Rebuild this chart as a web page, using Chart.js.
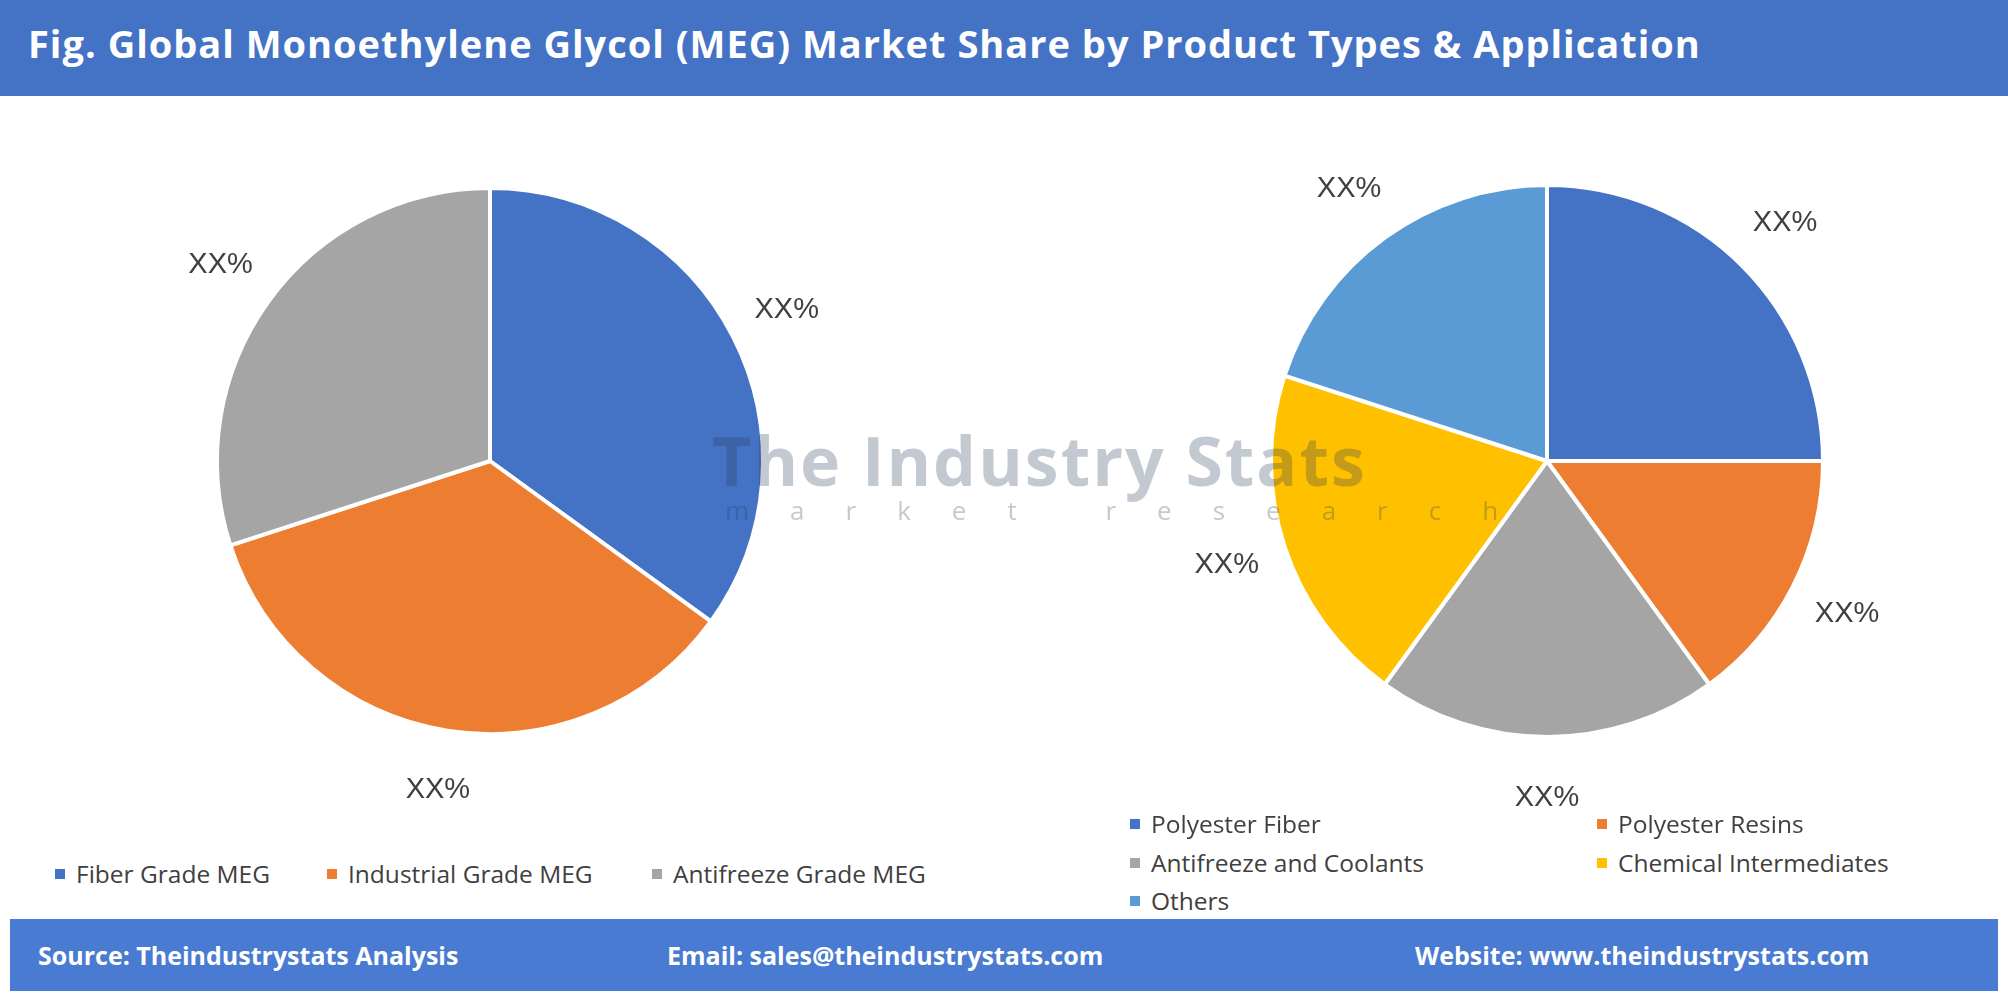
<!DOCTYPE html>
<html>
<head>
<meta charset="utf-8">
<script src="https://cdn.jsdelivr.net/npm/chart.js@4"></script>
<style>
  body { margin: 0; width: 2008px; height: 994px; background: #fff; font-family: "Open Sans", sans-serif; position: relative; overflow: hidden; }
  .cabecalho { position: absolute; left: 0; top: 0; width: 2008px; height: 96px; background: #4472C4; }
  .cabecalho h1 { margin: 0; color: #fff; font-size: 38px; font-weight: 700; position: absolute; left: 28px; top: 17px; letter-spacing: 1px; }
  .rodape { position: absolute; left: 10px; top: 919px; width: 1988px; height: 72px; background: #4A7BD2; color: #fff; font-weight: 700; font-size: 25px; }
  .rodape span { position: absolute; top: 19px; }
  .grafico { position: absolute; }
  .legenda { position: absolute; font-size: 24.5px; color: #404040; }
  .legenda .item { position: absolute; white-space: nowrap; }
  .legenda .quadrado { display: inline-block; width: 10px; height: 10px; margin-right: 11px; vertical-align: middle; position: relative; top: -2px; }
  .marca { position: absolute; left: 712px; top: 413px; font-size: 68px; font-weight: 700; color: rgba(40,60,90,0.28); letter-spacing: 2px; }
  .marca2 { position: absolute; left: 725px; top: 492px; font-size: 26px; color: rgba(40,60,90,0.28); letter-spacing: 41px; }
</style>
</head>
<body>
<div class="cabecalho"><h1>Fig. Global Monoethylene Glycol (MEG) Market Share by Product Types &amp; Application</h1></div>

<div class="grafico" style="left:90px; top:111px; width:800px; height:700px;"><canvas id="pieTipos"></canvas></div>
<div class="grafico" style="left:1147px; top:111px; width:800px; height:700px;"><canvas id="pieAplicacao"></canvas></div>

<div class="marca">The Industry Stats</div>
<div class="marca2">market research</div>

<div class="legenda" id="legendaTipos"></div>
<div class="legenda" id="legendaAplicacao"></div>

<div class="rodape">
  <span style="left:28px;">Source: Theindustrystats Analysis</span>
  <span style="left:657px;">Email: sales@theindustrystats.com</span>
  <span style="left:1405px;">Website: www.theindustrystats.com</span>
</div>

<script>
// dados do grafico de tipos de produto
const tipos = ['Fiber Grade MEG', 'Industrial Grade MEG', 'Antifreeze Grade MEG'];
const valoresTipos = [35, 35, 30];
const coresTipos = ['#4472C4', '#ED7D31', '#A5A5A5'];

// dados do grafico de aplicacao
const aplicacoes = ['Polyester Fiber', 'Polyester Resins', 'Antifreeze and Coolants', 'Chemical Intermediates', 'Others'];
const valoresAplicacao = [25, 15, 20, 20, 20];
const coresAplicacao = ['#4472C4', '#ED7D31', '#A5A5A5', '#FFC000', '#5B9BD5'];

const rotulo = 'XX%';

// plugin simples para escrever os rotulos fora das fatias
const rotulosFora = {
    id: 'rotulosFora',
    afterDatasetsDraw(chart) {
        const ctx = chart.ctx;
        ctx.save();
        ctx.font = '29px "Liberation Sans", sans-serif';
        ctx.fillStyle = '#404040';
        ctx.textAlign = 'center';
        ctx.textBaseline = 'middle';
        chart.getDatasetMeta(0).data.forEach((arco) => {
            const meio = (arco.startAngle + arco.endAngle) / 2;
            const r = arco.outerRadius * 1.22;
            ctx.fillText(rotulo, arco.x + Math.cos(meio) * r, arco.y + Math.sin(meio) * r);
        });
        ctx.restore();
    }
};

function criarPizza(id, labels, valores, cores, pad) {
    new Chart(document.getElementById(id), {
        type: 'pie',
        data: { labels: labels, datasets: [{ data: valores, backgroundColor: cores, borderColor: '#fff', borderWidth: 4 }] },
        options: {
            responsive: true, maintainAspectRatio: false, animation: false,
            layout: { padding: pad },
            plugins: { legend: { display: false }, tooltip: { enabled: false } }
        },
        plugins: [rotulosFora]
    });
}

criarPizza('pieTipos', tipos, valoresTipos, coresTipos, 75);
criarPizza('pieAplicacao', aplicacoes, valoresAplicacao, coresAplicacao, 72);

// legendas em html
function criarLegenda(id, labels, cores, posicoes) {
    const el = document.getElementById(id);
    labels.forEach((nome, i) => {
        const item = document.createElement('div');
        item.className = 'item';
        item.style.left = posicoes[i][0] + 'px';
        item.style.top = posicoes[i][1] + 'px';
        item.innerHTML = '<span class="quadrado" style="background:' + cores[i] + '"></span>' + nome;
        el.appendChild(item);
    });
}

criarLegenda('legendaTipos', tipos, coresTipos, [[55, 857], [327, 857], [652, 857]]);
criarLegenda('legendaAplicacao', aplicacoes, coresAplicacao, [[1130, 807], [1597, 807], [1130, 846], [1597, 846], [1130, 884]]);
</script>
</body>
</html>
